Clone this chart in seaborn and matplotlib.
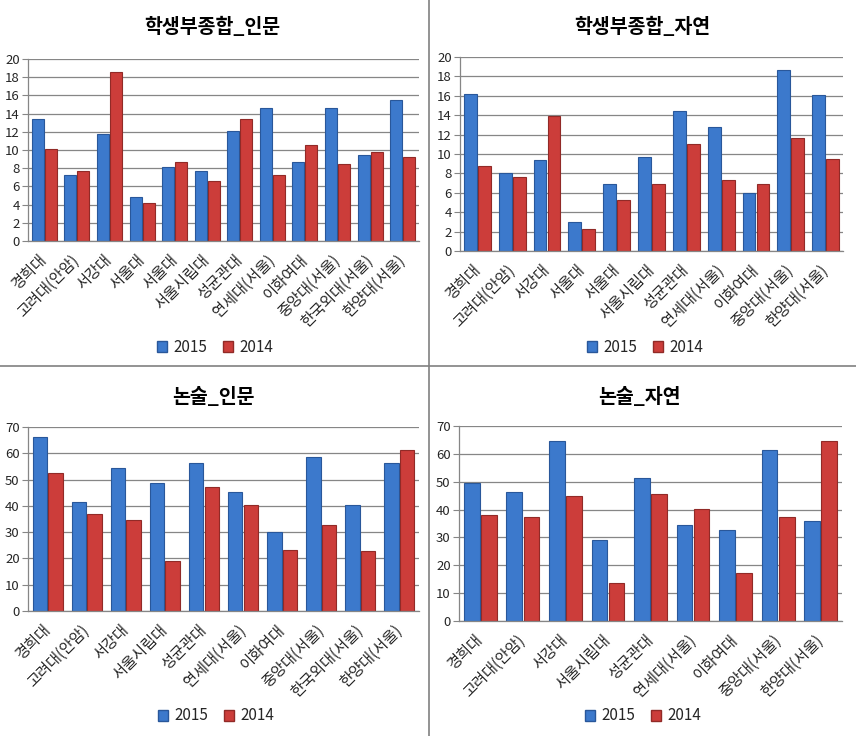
import matplotlib
matplotlib.use("Agg")
import matplotlib.pyplot as plt
from matplotlib.patches import Patch
from matplotlib.lines import Line2D
import seaborn as sns
import pandas as pd

# --- data -------------------------------------------------------------
labels_a = ["경희대", "고려대(안암)", "서강대", "서울대", "서울대", "서울시립대", "성균관대",
            "연세대(서울)", "이화여대", "중앙대(서울)", "한국외대(서울)", "한양대(서울)"]
a_2015 = [13.4, 7.3, 11.8, 4.8, 8.1, 7.7, 12.1, 14.6, 8.7, 14.6, 9.5, 15.5]
a_2014 = [10.1, 7.7, 18.6, 4.2, 8.7, 6.6, 13.4, 7.2, 10.5, 8.5, 9.8, 9.2]

labels_b = ["경희대", "고려대(안암)", "서강대", "서울대", "서울대", "서울시립대", "성균관대",
            "연세대(서울)", "이화여대", "중앙대(서울)", "한양대(서울)"]
b_2015 = [16.2, 8.0, 9.4, 3.0, 6.9, 9.7, 14.4, 12.8, 6.0, 18.7, 16.1]
b_2014 = [8.8, 7.6, 13.9, 2.3, 5.3, 6.9, 11.0, 7.3, 6.9, 11.7, 9.5]

labels_c = ["경희대", "고려대(안암)", "서강대", "서울시립대", "성균관대", "연세대(서울)",
            "이화여대", "중앙대(서울)", "한국외대(서울)", "한양대(서울)"]
c_2015 = [66.2, 41.3, 54.4, 48.7, 56.3, 45.1, 30.0, 58.5, 40.2, 56.2]
c_2014 = [52.5, 36.8, 34.6, 18.9, 47.1, 40.2, 23.1, 32.7, 22.7, 61.1]

labels_d = ["경희대", "고려대(안암)", "서강대", "서울시립대", "성균관대", "연세대(서울)",
            "이화여대", "중앙대(서울)", "한양대(서울)"]
d_2015 = [49.7, 46.3, 64.6, 28.9, 51.3, 34.3, 32.5, 61.3, 35.8]
d_2014 = [38.0, 37.2, 44.8, 13.8, 45.5, 40.1, 17.4, 37.2, 64.6]

years = ["2015", "2014"]
colors = ["#3C79CC", "#CC3D3A"]
edges = ["#29579A", "#912A27"]

sns.set_style("white")
plt.rcParams["font.family"] = ["Noto Sans CJK KR", "DejaVu Sans"]

W, H = 856, 736
fig = plt.figure(figsize=(W / 100, H / 100), dpi=100)


def rect(l, t, r, b):
    return [l / W, 1 - b / H, (r - l) / W, (b - t) / H]


def panel(box, title, title_xy, legend_xy, labels, v15, v14, ymax, step):
    ax = fig.add_axes(rect(*box))
    n = len(labels)
    df = pd.DataFrame({
        "idx": list(range(n)) * 2,
        "value": v15 + v14,
        "year": ["2015"] * n + ["2014"] * n,
    })
    sns.barplot(data=df, x="idx", y="value", hue="year", hue_order=years,
                palette=colors, width=0.8, gap=0.08, ax=ax, legend=False,
                linewidth=0.8, saturation=1)
    for i, cont in enumerate(ax.containers):
        for bar in cont:
            bar.set_edgecolor(edges[i])
    ax.set_ylim(0, ymax)
    ax.set_yticks(range(0, ymax + 1, step))
    ax.set_xlim(-0.5, n - 0.5)
    ax.set_xticks(range(n))
    ax.set_xticklabels(labels, rotation=45, ha="right", va="center",
                       rotation_mode="anchor", fontsize=11)
    ax.tick_params(axis="x", length=0, pad=12)
    ax.tick_params(axis="y", labelsize=9.5, length=4, direction="out",
                   color="#868686", left=True, pad=2)
    ax.set_xlabel("")
    ax.set_ylabel("")
    ax.yaxis.grid(True, color="#868686", linewidth=0.9)
    ax.set_axisbelow(True)
    for s in ["top", "right"]:
        ax.spines[s].set_visible(False)
    for s in ["left", "bottom"]:
        ax.spines[s].set_color("#868686")
        ax.spines[s].set_linewidth(0.9)
    fig.text(title_xy[0] / W, 1 - title_xy[1] / H, title, ha="center",
             va="center", fontsize=14, fontweight="bold", color="black")
    handles = [Patch(facecolor=colors[i], edgecolor=edges[i], label=years[i])
               for i in range(2)]
    fig.legend(handles=handles, loc="center", ncol=2, frameon=False,
               bbox_to_anchor=(legend_xy[0] / W, 1 - legend_xy[1] / H),
               fontsize=11, handlelength=0.7, handleheight=0.7,
               handletextpad=0.4, columnspacing=1.0)
    return ax


panel((28, 59, 419, 241), "학생부종합_인문", (212, 27), (215, 347),
      labels_a, a_2015, a_2014, 20, 2)
panel((460, 57, 843, 251), "학생부종합_자연", (642, 27), (645, 347),
      labels_b, b_2015, b_2014, 20, 2)
panel((28, 427, 419, 611), "논술_인문", (213, 397), (216, 716),
      labels_c, c_2015, c_2014, 70, 10)
panel((459, 426, 842, 621), "논술_자연", (639, 397), (643, 716),
      labels_d, d_2015, d_2014, 70, 10)

# panel borders of the screenshot grid
fig.add_artist(Line2D([429 / W, 429 / W], [0, 1], color="#808080", linewidth=1.2))
fig.add_artist(Line2D([0, 1], [1 - 366 / H, 1 - 366 / H], color="#808080", linewidth=1.2))

fig.savefig("out.png", dpi=100)
